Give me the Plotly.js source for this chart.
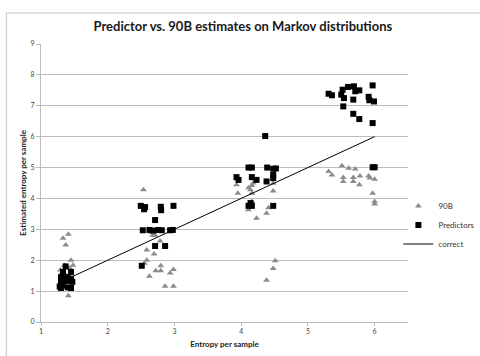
<!DOCTYPE html>
<html>
<head>
<meta charset="utf-8">
<script src="https://cdn.plot.ly/plotly-3.0.1.min.js"></script>
<style>
  html, body { margin: 0; padding: 0; background: #ffffff; }
  #chart { width: 480px; height: 356px; }
</style>
</head>
<body>
<div id="chart"></div>
<script>
// 90B estimates (gray triangles)
var b90X = [
  1.33, 1.41, 1.37, 1.45, 1.48, 1.35, 1.29, 1.41, 1.30, 1.43,
  2.535, 2.675, 2.71, 2.785, 2.585, 2.695, 2.585, 2.625, 2.72, 2.795, 2.795, 2.935, 2.985, 2.86, 2.985, 2.55, 2.66,
  3.93, 3.95, 4.11, 4.14, 4.16, 4.16, 4.18, 4.48, 4.48, 4.16, 4.11, 4.23, 4.41, 4.38, 4.51, 4.48, 4.38,
  5.31, 5.36, 5.51, 5.61, 5.71, 5.78, 5.53, 5.53, 5.68, 5.68, 5.77, 5.91, 5.93, 6.00, 5.97, 6.00, 6.00
];
var b90Y = [
  2.71, 2.84, 2.49, 2.00, 1.84, 1.84, 1.68, 0.85, 1.55, 1.75,
  4.28, 2.81, 2.81, 2.62, 2.33, 2.20, 2.00, 1.48, 1.66, 1.82, 1.66, 1.59, 1.70, 1.16, 1.16, 1.90, 2.90,
  4.44, 4.17, 4.35, 4.28, 4.42, 4.17, 4.50, 4.49, 4.24, 3.90, 3.63, 3.36, 3.70, 3.52, 1.98, 1.73, 1.35,
  4.87, 4.76, 5.06, 4.98, 4.95, 4.73, 4.68, 4.55, 4.68, 4.55, 4.44, 4.73, 4.66, 4.62, 4.17, 3.90, 3.82
];

// Predictor estimates (black squares)
var predX = [
  1.37, 1.33, 1.45, 1.30, 1.35, 1.40, 1.45, 1.30, 1.38, 1.47, 1.42, 1.28, 1.33, 1.40, 1.45, 1.30,
  2.495, 2.545, 2.56, 2.795, 2.80, 2.985, 2.71, 2.525, 2.625, 2.685, 2.76, 2.81, 2.935, 2.975, 2.71, 2.86, 2.51,
  4.36, 4.11, 4.16, 4.39, 4.48, 4.52, 3.93, 3.96, 4.16, 4.23, 4.38, 4.48, 4.48, 4.11, 4.16, 4.48, 4.14,
  5.31, 5.36, 5.52, 5.60, 5.50, 5.54, 5.69, 5.71, 5.77, 5.68, 5.53, 5.91, 5.92, 5.99, 5.97, 5.68, 5.77, 5.97, 5.97, 6.00
];
var predY = [
  1.80, 1.62, 1.62, 1.45, 1.47, 1.45, 1.40, 1.30, 1.33, 1.30, 1.35, 1.15, 1.18, 1.12, 1.10, 1.10,
  3.76, 3.65, 3.72, 3.73, 3.62, 3.76, 3.30, 2.97, 2.98, 2.96, 2.98, 2.97, 2.97, 2.98, 2.46, 2.46, 1.82,
  6.02, 5.00, 5.00, 5.00, 4.96, 4.97, 4.69, 4.60, 4.69, 4.60, 4.55, 4.66, 4.76, 3.76, 3.76, 3.76, 3.85,
  7.39, 7.34, 7.52, 7.61, 7.36, 7.25, 7.63, 7.47, 7.50, 7.20, 6.98, 7.29, 7.18, 7.14, 7.66, 6.74, 6.57, 6.44, 5.01, 5.01
];

// Correct entropy line
var correctX = [1.48, 6.0];
var correctY = [1.48, 6.0];

var xTicks = [1, 2, 3, 4, 5, 6];
var yTicks = [0, 1, 2, 3, 4, 5, 6, 7, 8, 9];

var FONT = 'Lato, "Open Sans", "DejaVu Sans", sans-serif';
var GRID = '#bcbcbc';

var traces = [
  {
    x: b90X, y: b90Y, type: 'scatter', mode: 'markers', name: '90B',
    marker: { symbol: 'triangle-up', size: 6, color: '#8c8c8c' }
  },
  {
    x: predX, y: predY, type: 'scatter', mode: 'markers', name: 'Predictors',
    marker: { symbol: 'square', size: 6, color: '#000000' }
  },
  {
    x: correctX, y: correctY, type: 'scatter', mode: 'lines', name: 'correct',
    line: { color: '#000000', width: 1 }
  }
];

var layout = {
  width: 480, height: 356,
  margin: { l: 41, r: 72, t: 44, b: 34, pad: 0, autoexpand: false },
  paper_bgcolor: '#ffffff', plot_bgcolor: '#ffffff',
  font: { family: FONT, size: 7, color: '#444444' },
  title: {
    text: '<b>Predictor vs. 90B estimates on Markov distributions</b>',
    font: { family: FONT, size: 13, color: '#1a1a1a' },
    xref: 'container', yref: 'container',
    x: 0.506, xanchor: 'center', y: 0.927, yanchor: 'middle'
  },
  xaxis: {
    range: [1, 6.5], tickvals: xTicks, ticktext: xTicks.map(String),
    showgrid: false, zeroline: false,
    showline: true, linecolor: GRID, linewidth: 1,
    ticks: 'outside', ticklen: 3, tickcolor: GRID,
    tickfont: { family: FONT, size: 7, color: '#444444' },
    title: { text: '<b>Entropy per sample</b>', font: { family: FONT, size: 8, color: '#1a1a1a' }, standoff: 6 },
    automargin: false,
    fixedrange: true
  },
  yaxis: {
    range: [0, 9], tickvals: yTicks, ticktext: yTicks.map(String),
    showgrid: true, gridcolor: GRID, gridwidth: 1, zeroline: false,
    showline: true, linecolor: GRID, linewidth: 1,
    ticks: 'outside', ticklen: 4, tickcolor: GRID,
    tickfont: { family: FONT, size: 7, color: '#444444' },
    title: { text: '<b>Estimated entropy per sample</b>', font: { family: FONT, size: 8, color: '#1a1a1a' }, standoff: 2 },
    automargin: false,
    fixedrange: true
  },
  legend: {
    xref: 'container', yref: 'container',
    x: 0.83, xanchor: 'left', y: 0.368, yanchor: 'middle',
    font: { family: FONT, size: 8, color: '#333333' },
    bgcolor: 'rgba(0,0,0,0)', borderwidth: 0
  },
  showlegend: true,
  shapes: [
    { type: 'line', xref: 'paper', yref: 'paper', x0: -0.0944, x1: 1.3, y0: 1.1115, y1: 1.1115,
      line: { color: '#c4c4c4', width: 1 } },
    { type: 'line', xref: 'paper', yref: 'paper', x0: -0.0944, x1: -0.0944, y0: 1.1115, y1: -0.2,
      line: { color: '#c4c4c4', width: 1 } }
  ]
};

Plotly.newPlot('chart', traces, layout, { displayModeBar: false, staticPlot: true });
</script>
</body>
</html>
